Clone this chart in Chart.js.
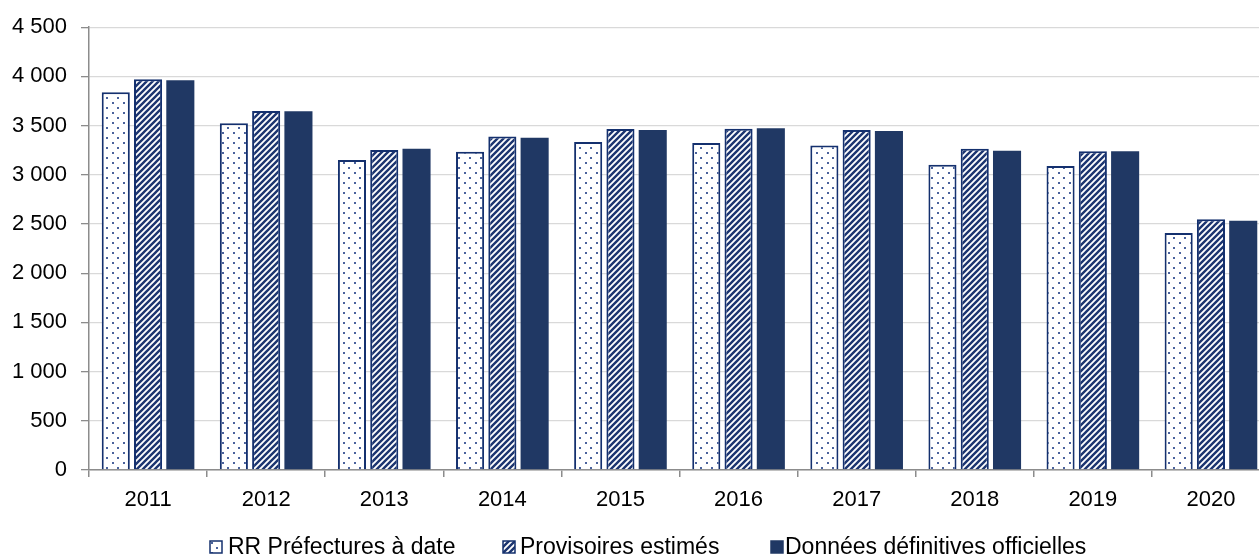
<!DOCTYPE html>
<html><head><meta charset="utf-8">
<script src="https://cdn.jsdelivr.net/npm/chart.js@4"></script>
<style>
html,body{margin:0;padding:0;background:#fff;overflow:hidden}
#wrap{position:relative;width:1259px;height:556px;overflow:hidden;background:#fff}
#inner{position:absolute;left:0;top:0;width:1282px;height:556px}
</style></head><body>
<div id="wrap"><div id="inner"><canvas id="c"></canvas></div></div>
<script>
const categories = ['2011','2012','2013','2014','2015','2016','2017','2018','2019','2020'];
const seriesNames = ['RR Préfectures à date','Provisoires estimés','Données définitives officielles'];
const rrPrefectures = [3840, 3523, 3150, 3235, 3333, 3323, 3299, 3103, 3089, 2408];
const provisoires   = [3970, 3648, 3252, 3390, 3465, 3469, 3455, 3265, 3240, 2548];
const definitives   = [3960, 3645, 3265, 3377, 3455, 3472, 3445, 3245, 3240, 2534];
const yMin = 0, yMax = 4500, yStep = 500;

const FONT = '"Liberation Sans", Arial, sans-serif';
const FS = 22;
const LFS = 23;
const NAVY = '#14306e';
const SOLID = '#203864';

function dotPattern(){
  const w = 11, h = 10;
  const c = document.createElement('canvas'); c.width = w; c.height = h;
  const g = c.getContext('2d');
  g.fillStyle = '#fff'; g.fillRect(0,0,w,h);
  g.fillStyle = '#4a629c';
  g.fillRect(2,2,2,2);
  g.fillRect(7,7,2,2);
  return g.createPattern(c,'repeat');
}
function stripePattern(){
  const s = 6;
  const c = document.createElement('canvas'); c.width = s; c.height = s;
  const g = c.getContext('2d');
  g.fillStyle = '#fff'; g.fillRect(0,0,s,s);
  g.strokeStyle = '#1c3570'; g.lineWidth = 2.4;
  g.beginPath();
  g.moveTo(0,s); g.lineTo(s,0);
  g.moveTo(-s/2,s/2); g.lineTo(s/2,-s/2);
  g.moveTo(s/2,s*1.5); g.lineTo(s*1.5,s/2);
  g.stroke();
  return g.createPattern(c,'repeat');
}
const dots = dotPattern();
const stripes = stripePattern();

const fmt = v => String(v).replace(/\B(?=(\d{3})+(?!\d))/g, ' ');

const legendPlugin = {
  id: 'customLegend',
  afterDraw(chart){
    const ctx = chart.ctx;
    ctx.save();
    ctx.font = LFS + 'px ' + FONT;
    ctx.textBaseline = 'middle';
    const y = 547;
    const boxX = [210, 503, 771];
    const textX = [228, 520, 785];
    const fills = [dots, stripes, SOLID];
    seriesNames.forEach((name,i)=>{
      const x = boxX[i];
      ctx.fillStyle = fills[i];
      ctx.fillRect(x, y-6, 12, 12);
      ctx.strokeStyle = i===2 ? SOLID : NAVY;
      ctx.lineWidth = 1.5;
      ctx.strokeRect(x, y-6, 12, 12);
      ctx.fillStyle = '#000';
      ctx.fillText(name, textX[i], y + 1);
    });
    ctx.restore();
  }
};

new Chart(document.getElementById('c'), {
  type: 'bar',
  data: {
    labels: categories,
    datasets: [
      { label: seriesNames[0], data: rrPrefectures, backgroundColor: dots, borderColor: NAVY, borderWidth: 2, borderSkipped: 'bottom' },
      { label: seriesNames[1], data: provisoires, backgroundColor: stripes, borderColor: NAVY, borderWidth: 2, borderSkipped: 'bottom' },
      { label: seriesNames[2], data: definitives, backgroundColor: SOLID, borderWidth: 0 }
    ]
  },
  options: {
    responsive: true,
    maintainAspectRatio: false,
    animation: false,
    devicePixelRatio: 1,
    layout: { padding: { top: 27, right: 12, bottom: 0, left: 0 } },
    datasets: { bar: { barPercentage: 0.87, categoryPercentage: 0.82 } },
    plugins: { legend: { display: false }, tooltip: { enabled: false } },
    scales: {
      x: {
        grid: { offset: true, drawOnChartArea: false, drawTicks: true, tickLength: 7, tickColor: '#8c8c8c', lineWidth: 1.5 },
        border: { color: '#8c8c8c', width: 1.5 },
        ticks: { color: '#000', font: { family: FONT, size: FS }, padding: 10, maxRotation: 0, autoSkip: false },
        afterFit: s => { s.height = 86; }
      },
      y: {
        min: yMin, max: yMax,
        grid: { color: '#d9d9d9', lineWidth: 1.3, tickColor: '#8c8c8c', tickLength: 8 },
        border: { color: '#8c8c8c', width: 1.5 },
        ticks: { stepSize: yStep, color: '#000', font: { family: FONT, size: FS }, padding: 14, callback: v => fmt(v) },
        afterFit: s => { s.width = 89; }
      }
    }
  },
  plugins: [legendPlugin]
});
</script>
</body></html>
